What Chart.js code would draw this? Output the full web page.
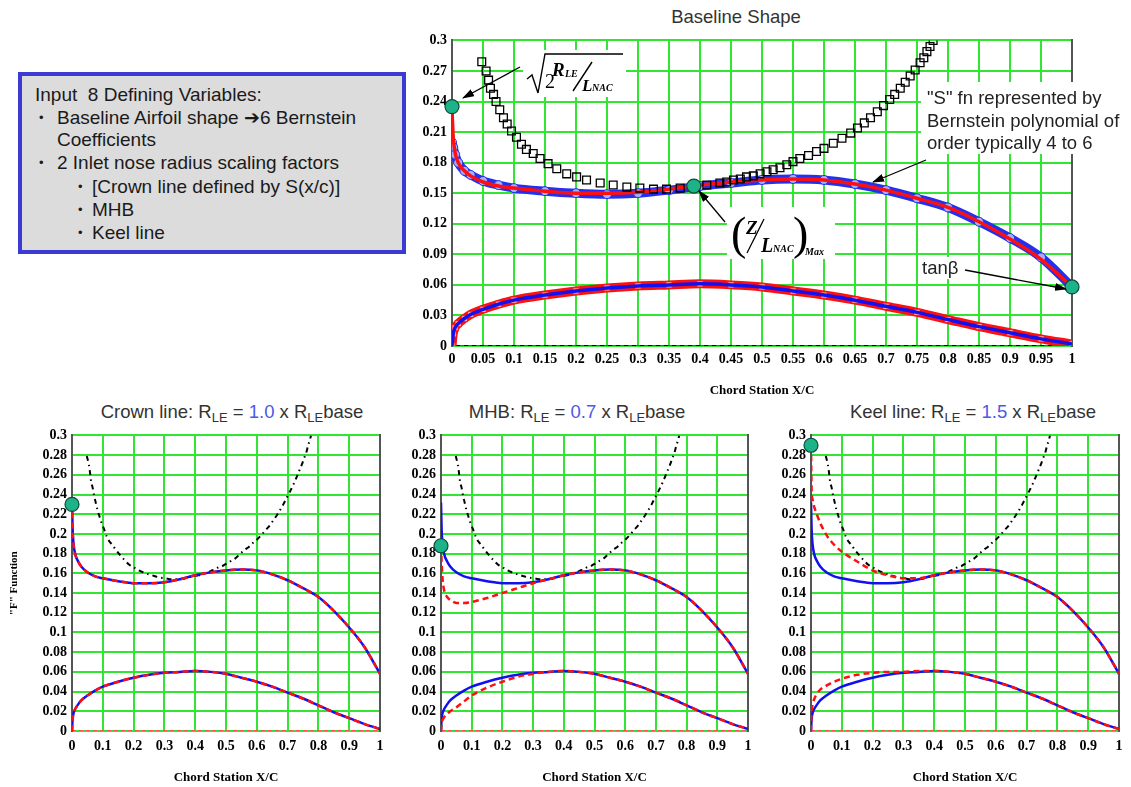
<!DOCTYPE html>
<html>
<head>
<meta charset="utf-8">
<script src="https://cdn.jsdelivr.net/npm/chart.js@4.4.1/dist/chart.umd.min.js"></script>
<style>
  body { margin: 0; width: 1131px; height: 787px; background: #fff; position: relative; overflow: hidden;
         font-family: "Liberation Sans", Arial, sans-serif; }
  canvas { position: absolute; }
  .t { position: absolute; width: 400px; text-align: center; white-space: nowrap; color: #333;
       font-size: 18.5px; line-height: 24px; }
  .t sub { font-size: 13px; vertical-align: -4px; line-height: 0; }
  .num { color: #4a5ae6; }
  #box { position: absolute; left: 18px; top: 72px; width: 388px; height: 182px; box-sizing: border-box;
         border: 4px solid #3b3bd3; background: #dcdcdc; }
  .bl { position: absolute; font-size: 19px; line-height: 23px; color: #1a1a1a; white-space: nowrap; }
  .bu { position: absolute; font-size: 13px; line-height: 23px; color: #1a1a1a; }
  svg { position: absolute; left: 0; top: 0; }
  .fi { font-family: "Liberation Serif", serif; font-style: italic; font-weight: bold; }
  .nt { font-family: "Liberation Sans", Arial, sans-serif; font-size: 18.5px; fill: #222; }
</style>
</head>
<body>

<div id="box"></div>
<div class="bl" style="left:35px; top:83px;">Input&nbsp; 8 Defining Variables:</div>
<div class="bu" style="left:39px; top:106px;">&#8226;</div>
<div class="bl" style="left:57px; top:106px;">Baseline Airfoil shape &#10132;6 Bernstein</div>
<div class="bl" style="left:57px; top:128px;">Coefficients</div>
<div class="bu" style="left:39px; top:151px;">&#8226;</div>
<div class="bl" style="left:57px; top:151px;">2 Inlet nose radius scaling factors</div>
<div class="bu" style="left:78px; top:175px;">&#8226;</div>
<div class="bl" style="left:92px; top:175px;">[Crown line defined by S(x/c)]</div>
<div class="bu" style="left:78px; top:198px;">&#8226;</div>
<div class="bl" style="left:92px; top:198px;">MHB</div>
<div class="bu" style="left:78px; top:221px;">&#8226;</div>
<div class="bl" style="left:92px; top:221px;">Keel line</div>

<div class="t" style="left:536px; top:5px;">Baseline Shape</div>
<div class="t" style="left:32px; top:400px;">Crown line: R<sub>LE</sub> = <span class="num">1.0</span> x R<sub>LE</sub>base</div>
<div class="t" style="left:377px; top:400px;">MHB: R<sub>LE</sub> = <span class="num">0.7</span> x R<sub>LE</sub>base</div>
<div class="t" style="left:773px; top:400px;">Keel line: R<sub>LE</sub> = <span class="num">1.5</span> x R<sub>LE</sub>base</div>

<canvas id="top" width="700" height="373" style="left:400px; top:27px;"></canvas>
<canvas id="crown" width="400" height="365" style="left:0px; top:422px;"></canvas>
<canvas id="mhb" width="380" height="365" style="left:389px; top:422px;"></canvas>
<canvas id="keel" width="372" height="365" style="left:759px; top:422px;"></canvas>

<svg width="1131" height="787">
  <defs>
    <marker id="ah" viewBox="0 0 12 8" refX="11" refY="4" markerWidth="12" markerHeight="8"
            markerUnits="userSpaceOnUse" orient="auto">
      <path d="M0,0 L12,4 L0,8 z" fill="#000"/>
    </marker>
  </defs>
  <!-- sqrt(2 RLE / LNAC) -->
  <rect x="523" y="50" width="103" height="47" fill="#fff"/>
  <path d="M527,79 L532,75 L538,93 L545,54 L623,54" fill="none" stroke="#000" stroke-width="1.4"/>
  <text x="545" y="88" font-family="Liberation Serif" font-size="20">2</text>
  <text x="552" y="76" class="fi" font-size="19">R</text>
  <text x="565" y="77" class="fi" font-size="10">LE</text>
  <line x1="573" y1="91" x2="592" y2="62" stroke="#000" stroke-width="1.4"/>
  <text x="582" y="91" class="fi" font-size="17">L</text>
  <text x="592" y="91" class="fi" font-size="10">NAC</text>
  <line x1="520" y1="67" x2="463" y2="98" stroke="#000" stroke-width="1.3" marker-end="url(#ah)"/>

  <!-- (Z / LNAC) Max -->
  <rect x="727" y="207" width="108" height="52" fill="#fff"/>
  <text x="731" y="249" font-family="Liberation Serif" font-size="46">(</text>
  <text x="746" y="234" class="fi" font-size="19">Z</text>
  <line x1="747" y1="253" x2="764" y2="219" stroke="#000" stroke-width="1.3"/>
  <text x="761" y="252" class="fi" font-size="20">L</text>
  <text x="773" y="252" class="fi" font-size="10">NAC</text>
  <text x="793" y="249" font-family="Liberation Serif" font-size="46">)</text>
  <text x="805" y="255" class="fi" font-size="10">Max</text>
  <line x1="725" y1="222" x2="699" y2="191" stroke="#000" stroke-width="1.3" marker-end="url(#ah)"/>

  <!-- S fn note -->
  <rect x="921" y="82" width="210" height="72" fill="#fff"/>
  <text x="927" y="104" class="nt">"S" fn represented by</text>
  <text x="927" y="127" class="nt">Bernstein polynomial of</text>
  <text x="927" y="149" class="nt">order typically 4 to 6</text>
  <line x1="926" y1="160" x2="873" y2="182" stroke="#000" stroke-width="1.3" marker-end="url(#ah)"/>

  <!-- tan beta -->
  <rect x="918" y="257" width="46" height="22" fill="#fff"/>
  <text x="922" y="274" class="nt">tanβ</text>
  <line x1="965" y1="270" x2="1066" y2="289" stroke="#000" stroke-width="1.3" marker-end="url(#ah)"/>
</svg>

<script>
// chord stations X/C shared by the shape curves
const xc = [0, 0.002, 0.005, 0.01, 0.02, 0.03, 0.05, 0.075, 0.1, 0.15, 0.2, 0.25, 0.3, 0.35, 0.4,
            0.45, 0.5, 0.55, 0.6, 0.65, 0.7, 0.75, 0.8, 0.85, 0.9, 0.95, 1];

// baseline shape (crown line, 1.0 x RLE)
const baseUpper = [0.232, 0.205, 0.19, 0.18, 0.172, 0.167, 0.161, 0.157, 0.155, 0.152, 0.150, 0.150, 0.151, 0.154, 0.158,
                   0.161, 0.163, 0.164, 0.163, 0.159, 0.153, 0.145, 0.136, 0.122, 0.105, 0.085, 0.058];
const baseLower = [0, 0.012, 0.018, 0.022, 0.027, 0.031, 0.036, 0.041, 0.045, 0.050, 0.054, 0.057, 0.059, 0.060, 0.061,
                   0.060, 0.058, 0.054, 0.050, 0.045, 0.039, 0.033, 0.026, 0.019, 0.013, 0.007, 0.002];
// fitted points (open circles) in the baseline plot
const fitUpper = [0.2, 0.195, 0.188, 0.18, 0.172, 0.168, 0.162, 0.158, 0.155, 0.152, 0.150, 0.149, 0.150, 0.153, 0.157,
                  0.160, 0.163, 0.164, 0.163, 0.159, 0.153, 0.145, 0.136, 0.122, 0.106, 0.087, 0.058];

// MHB, 0.7 x RLE
const mhbUpper = [0.188, 0.172, 0.155, 0.143, 0.136, 0.133, 0.130, 0.130, 0.131, 0.135, 0.140, 0.145, 0.150, 0.154, 0.158,
                  0.161, 0.163, 0.164, 0.163, 0.159, 0.153, 0.145, 0.136, 0.122, 0.105, 0.085, 0.058];
const mhbLower = [0, 0.008, 0.011, 0.014, 0.017, 0.020, 0.024, 0.030, 0.036, 0.044, 0.050, 0.055, 0.058, 0.060, 0.061,
                  0.060, 0.058, 0.054, 0.050, 0.045, 0.039, 0.033, 0.026, 0.019, 0.013, 0.007, 0.002];

// Keel line, 1.5 x RLE
const keelUpper = [0.29, 0.245, 0.235, 0.228, 0.219, 0.211, 0.199, 0.189, 0.182, 0.172, 0.163, 0.158, 0.155, 0.155, 0.158,
                   0.161, 0.163, 0.164, 0.163, 0.159, 0.153, 0.145, 0.136, 0.122, 0.105, 0.085, 0.058];
const keelLower = [0, 0.02, 0.026, 0.032, 0.038, 0.042, 0.046, 0.050, 0.053, 0.057, 0.059, 0.060, 0.060, 0.061, 0.061,
                   0.060, 0.058, 0.054, 0.050, 0.045, 0.039, 0.033, 0.026, 0.019, 0.013, 0.007, 0.002];

// class function curve (squares / dash-dot)
const classX = [0.048, 0.055, 0.059, 0.062, 0.067, 0.071, 0.077, 0.083, 0.089, 0.096, 0.104, 0.112, 0.12, 0.131, 0.142,
                0.155, 0.169, 0.185, 0.201, 0.217, 0.239, 0.26, 0.282, 0.303, 0.325, 0.346, 0.368, 0.389, 0.411, 0.432,
                0.443, 0.454, 0.465, 0.475, 0.486, 0.497, 0.508, 0.518, 0.529, 0.54, 0.55, 0.561, 0.575, 0.588, 0.6,
                0.615, 0.629, 0.643, 0.654, 0.665, 0.675, 0.686, 0.696, 0.706, 0.714, 0.723, 0.731, 0.739, 0.747, 0.755,
                0.761, 0.766, 0.771, 0.776];
const classY = [0.279, 0.270, 0.261, 0.253, 0.247, 0.240, 0.232, 0.224, 0.218, 0.211, 0.205, 0.198, 0.193, 0.189, 0.184,
                0.179, 0.174, 0.169, 0.166, 0.163, 0.160, 0.158, 0.156, 0.155, 0.154, 0.154, 0.155, 0.157, 0.158, 0.160,
                0.161, 0.163, 0.164, 0.166, 0.167, 0.169, 0.171, 0.173, 0.175, 0.178, 0.181, 0.184, 0.187, 0.191, 0.194,
                0.199, 0.204, 0.209, 0.214, 0.219, 0.224, 0.230, 0.236, 0.242, 0.247, 0.253, 0.259, 0.265, 0.271, 0.278,
                0.283, 0.289, 0.294, 0.300];

// marked points (green dots)
const topDotX = [0, 0.39, 1];
const topDotY = [0.235, 0.157, 0.058];
const crownDot = [0.23];
const mhbDot = [0.188];
const keelDot = [0.29];

const zeroX = [0, 1];
const zeroY = [0, 0];

// ticks
const topXTicks = [0, 0.05, 0.1, 0.15, 0.2, 0.25, 0.3, 0.35, 0.4, 0.45, 0.5, 0.55, 0.6, 0.65, 0.7, 0.75, 0.8, 0.85, 0.9, 0.95, 1];
const topXLabels = ['0', '0.05', '0.1', '0.15', '0.2', '0.25', '0.3', '0.35', '0.4', '0.45', '0.5', '0.55', '0.6', '0.65',
                    '0.7', '0.75', '0.8', '0.85', '0.9', '0.95', '1'];
const topYTicks = [0, 0.03, 0.06, 0.09, 0.12, 0.15, 0.18, 0.21, 0.24, 0.27, 0.3];
const topYLabels = ['0', '0.03', '0.06', '0.09', '0.12', '0.15', '0.18', '0.21', '0.24', '0.27', '0.3'];
const botXTicks = [0, 0.1, 0.2, 0.3, 0.4, 0.5, 0.6, 0.7, 0.8, 0.9, 1];
const botXLabels = ['0', '0.1', '0.2', '0.3', '0.4', '0.5', '0.6', '0.7', '0.8', '0.9', '1'];
const botYTicks = [0, 0.02, 0.04, 0.06, 0.08, 0.1, 0.12, 0.14, 0.16, 0.18, 0.2, 0.22, 0.24, 0.26, 0.28, 0.3];
const botYLabels = ['0', '0.02', '0.04', '0.06', '0.08', '0.1', '0.12', '0.14', '0.16', '0.18', '0.2', '0.22', '0.24',
                    '0.26', '0.28', '0.3'];

const GREEN = '#33e533';
const BLUE = '#1010f0';
const RED = '#ff1010';
const TEAL = '#1db389';
const SERIF = '"Liberation Serif", "Times New Roman", serif';
const TICK_FONT = { family: SERIF, size: 14, weight: 'bold' };
const AXIS_FONT = { family: SERIF, size: 13, weight: 'bold' };

function pts(xs, ys) {
    return xs.map((x, i) => ({ x: x, y: ys[i] }));
}

function curve(data, color, width, dash, order) {
    return {
        data: data, showLine: true, borderColor: color, borderWidth: width, borderDash: dash || [],
        pointRadius: 0, cubicInterpolationMode: 'monotone', fill: false, order: order
    };
}

function dots(data, order) {
    return {
        data: data, showLine: false, pointRadius: 7, pointBackgroundColor: TEAL,
        pointBorderColor: '#0c4a3a', pointBorderWidth: 1.2, clip: false, order: order
    };
}

function makeScales(c) {
    return {
        x: {
            type: 'linear', min: 0, max: 1,
            afterBuildTicks: (s) => { s.ticks = c.xTicks.map(v => ({ value: v })); },
            afterFit: (s) => { s.height = c.xH; },
            ticks: { autoSkip: false, maxRotation: 0, padding: c.xPad, color: '#000', font: TICK_FONT,
                     callback: (v, i) => c.xLabels[i] },
            grid: { color: GREEN, lineWidth: 2, drawTicks: false },
            border: { display: false },
            title: { display: true, text: 'Chord Station X/C', color: '#000', font: AXIS_FONT,
                     padding: { top: 0, bottom: 2 } }
        },
        y: {
            type: 'linear', min: 0, max: 0.3,
            afterBuildTicks: (s) => { s.ticks = c.yTicks.map(v => ({ value: v })); },
            afterFit: (s) => { s.width = c.yW; },
            ticks: { autoSkip: false, padding: 5, color: '#000', font: TICK_FONT,
                     callback: (v, i) => c.yLabels[i] },
            grid: { color: GREEN, lineWidth: 2, drawTicks: false },
            border: { display: true, color: '#555', width: 2 },
            title: { display: !!c.yTitle, text: c.yTitle || '', color: '#000',
                     font: { family: SERIF, size: 11, weight: 'bold' }, padding: { top: 8, bottom: 0 } }
        },
        yr: {
            type: 'linear', position: 'right', min: 0, max: 0.3,
            afterBuildTicks: (s) => { s.ticks = [{ value: 0 }]; },
            afterFit: (s) => { s.width = 0; },
            ticks: { padding: -4, color: '#000', font: TICK_FONT, callback: () => '0' },
            grid: { display: false, drawTicks: false },
            border: { display: true, color: '#555', width: 2 }
        }
    };
}

function baseOptions(c) {
    return {
        responsive: false, animation: false, devicePixelRatio: 1,
        layout: { padding: { top: 10, right: c.pR, left: 0, bottom: 0 } },
        plugins: { legend: { display: false }, tooltip: { enabled: false } },
        scales: makeScales(c)
    };
}

// baseline shape
new Chart(document.getElementById('top'), {
    type: 'scatter',
    data: {
        datasets: [
            dots(pts(topDotX, topDotY), 0),
            {
                data: pts(classX, classY), showLine: false, pointStyle: 'rect', pointRadius: 5.5,
                pointBorderColor: '#000', pointBorderWidth: 1.3, pointBackgroundColor: 'rgba(0,0,0,0)', order: 1
            },
            curve(pts(xc, baseLower), BLUE, 3.5, null, 2),
            curve(pts(xc, baseUpper), RED, 3.5, null, 3),
            Object.assign(curve(pts(xc, baseLower), RED, 9, null, 4), {
                pointRadius: 4.5, pointStyle: 'rect', pointBorderColor: RED, pointBorderWidth: 1,
                pointBackgroundColor: 'rgba(255,255,255,0.6)'
            }),
            Object.assign(curve(pts(xc, fitUpper), '#2430f0', 9, null, 5), {
                pointRadius: 4.5, pointStyle: 'circle', pointBorderColor: '#2430f0', pointBorderWidth: 1,
                pointBackgroundColor: 'rgba(255,255,255,0.6)'
            }),
            curve(pts(zeroX, zeroY), RED, 2, [4, 4], 6),
            curve(pts(zeroX, zeroY), '#000', 2, null, 7)
        ]
    },
    options: baseOptions({ xTicks: topXTicks, xLabels: topXLabels, yTicks: topYTicks, yLabels: topYLabels,
                           xH: 54, xPad: 5, yW: 52, pR: 28 })
});

function shapeChart(id, upper, lower, dotY, yW, pR, yTitle) {
    new Chart(document.getElementById(id), {
        type: 'scatter',
        data: {
            datasets: [
                dots(pts([0], dotY), 0),
                curve(pts(xc, upper), RED, 2.5, [6, 4], 1),
                curve(pts(xc, lower), RED, 2.5, [6, 4], 2),
                curve(pts(xc, baseUpper), BLUE, 2.5, null, 3),
                curve(pts(xc, baseLower), BLUE, 2.5, null, 4),
                curve(pts(classX, classY), '#000', 2, [5, 4, 1.5, 4], 5),
                curve(pts(zeroX, zeroY), '#ff5050', 2, [4, 3], 6)
            ]
        },
        options: baseOptions({ xTicks: botXTicks, xLabels: botXLabels, yTicks: botYTicks, yLabels: botYLabels,
                               xH: 56, xPad: 7, yW: yW, pR: pR, yTitle: yTitle })
    });
}

shapeChart('crown', baseUpper, baseLower, crownDot, 72, 20, '"F" Function');
shapeChart('mhb', mhbUpper, mhbLower, mhbDot, 52, 21);
shapeChart('keel', keelUpper, keelLower, keelDot, 52, 12);
</script>
</body>
</html>
